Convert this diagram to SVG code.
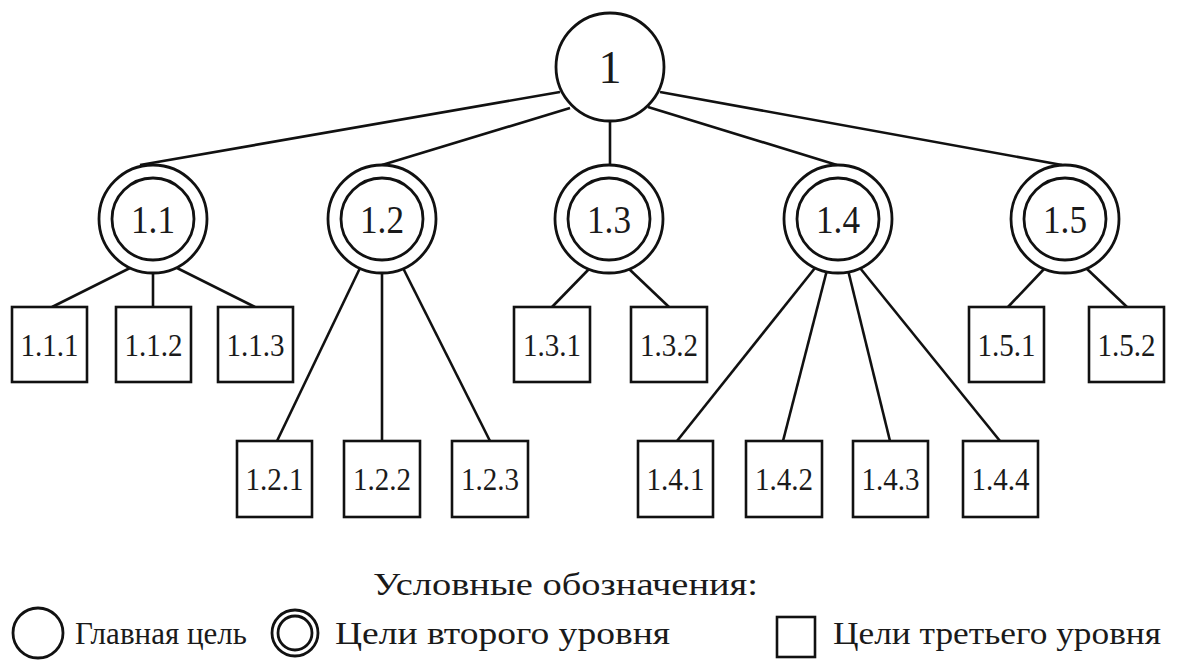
<svg xmlns="http://www.w3.org/2000/svg" width="1183" height="663" viewBox="0 0 1183 663">
<style>
text{font-family:"Liberation Serif","Times New Roman",Times,"DejaVu Serif",serif}
.ln{stroke:#111;stroke-width:2.6;fill:none}
.c{fill:#fff;stroke:#111;stroke-width:2.8}
.b{fill:#fff;stroke:#111;stroke-width:2.6}
.t{fill:#1a1a1a;text-anchor:middle}
.t1{font-size:46px}
.t2{font-size:40px}
.t3{font-size:31px}
.lg{fill:#1a1a1a;font-size:32px}
</style>
<rect width="1183" height="663" fill="#fff"/>
<g id="connectors">
<line class="ln" x1="560" y1="92" x2="140" y2="165"/>
<line class="ln" x1="570" y1="108" x2="382" y2="165"/>
<line class="ln" x1="610" y1="115" x2="610" y2="168"/>
<line class="ln" x1="648" y1="107" x2="837" y2="165"/>
<line class="ln" x1="660" y1="92" x2="1062" y2="165"/>
<line class="ln" x1="130" y1="268" x2="52" y2="307"/>
<line class="ln" x1="153" y1="270" x2="153" y2="307"/>
<line class="ln" x1="177" y1="268" x2="255" y2="307"/>
<line class="ln" x1="360" y1="268" x2="277" y2="441"/>
<line class="ln" x1="382" y1="270" x2="382" y2="441"/>
<line class="ln" x1="403" y1="268" x2="490" y2="441"/>
<line class="ln" x1="590" y1="268" x2="552" y2="307"/>
<line class="ln" x1="628" y1="268" x2="669" y2="307"/>
<line class="ln" x1="815" y1="268" x2="677" y2="441"/>
<line class="ln" x1="827" y1="270" x2="783" y2="441"/>
<line class="ln" x1="848" y1="270" x2="890" y2="441"/>
<line class="ln" x1="860" y1="268" x2="1000" y2="441"/>
<line class="ln" x1="1045" y1="268" x2="1008" y2="307"/>
<line class="ln" x1="1086" y1="268" x2="1127" y2="307"/>
</g>
<g id="n1"><circle class="c" cx="610" cy="67" r="54"/><text class="t t1" x="610" y="83">1</text></g>
<g id="n1_1"><circle class="c" cx="153" cy="219" r="54"/><circle class="c" cx="153" cy="219" r="41"/><text class="t t2" x="153" y="233" textLength="44" lengthAdjust="spacingAndGlyphs">1.1</text></g>
<g id="n1_2"><circle class="c" cx="382" cy="219" r="54"/><circle class="c" cx="382" cy="219" r="41"/><text class="t t2" x="382" y="233" textLength="44" lengthAdjust="spacingAndGlyphs">1.2</text></g>
<g id="n1_3"><circle class="c" cx="609" cy="219" r="54"/><circle class="c" cx="609" cy="219" r="41"/><text class="t t2" x="609" y="233" textLength="44" lengthAdjust="spacingAndGlyphs">1.3</text></g>
<g id="n1_4"><circle class="c" cx="838" cy="219" r="54"/><circle class="c" cx="838" cy="219" r="41"/><text class="t t2" x="838" y="233" textLength="44" lengthAdjust="spacingAndGlyphs">1.4</text></g>
<g id="n1_5"><circle class="c" cx="1065" cy="219" r="54"/><circle class="c" cx="1065" cy="219" r="41"/><text class="t t2" x="1065" y="233" textLength="44" lengthAdjust="spacingAndGlyphs">1.5</text></g>
<g id="n1_1_1"><rect class="b" x="12" y="307" width="75" height="75"/><text class="t t3" x="49.5" y="356" textLength="58" lengthAdjust="spacingAndGlyphs">1.1.1</text></g>
<g id="n1_1_2"><rect class="b" x="116" y="307" width="75" height="75"/><text class="t t3" x="153.5" y="356" textLength="58" lengthAdjust="spacingAndGlyphs">1.1.2</text></g>
<g id="n1_1_3"><rect class="b" x="218" y="307" width="75" height="75"/><text class="t t3" x="255.5" y="356" textLength="58" lengthAdjust="spacingAndGlyphs">1.1.3</text></g>
<g id="n1_3_1"><rect class="b" x="514" y="307" width="76" height="75"/><text class="t t3" x="552" y="356" textLength="58" lengthAdjust="spacingAndGlyphs">1.3.1</text></g>
<g id="n1_3_2"><rect class="b" x="631" y="307" width="76" height="75"/><text class="t t3" x="669" y="356" textLength="58" lengthAdjust="spacingAndGlyphs">1.3.2</text></g>
<g id="n1_5_1"><rect class="b" x="969" y="307" width="75" height="75"/><text class="t t3" x="1006.5" y="356" textLength="58" lengthAdjust="spacingAndGlyphs">1.5.1</text></g>
<g id="n1_5_2"><rect class="b" x="1089" y="307" width="75" height="75"/><text class="t t3" x="1126.5" y="356" textLength="58" lengthAdjust="spacingAndGlyphs">1.5.2</text></g>
<g id="n1_2_1"><rect class="b" x="237" y="441" width="75" height="76"/><text class="t t3" x="274.5" y="490" textLength="58" lengthAdjust="spacingAndGlyphs">1.2.1</text></g>
<g id="n1_2_2"><rect class="b" x="344" y="441" width="76" height="76"/><text class="t t3" x="382" y="490" textLength="58" lengthAdjust="spacingAndGlyphs">1.2.2</text></g>
<g id="n1_2_3"><rect class="b" x="452" y="441" width="76" height="76"/><text class="t t3" x="490" y="490" textLength="58" lengthAdjust="spacingAndGlyphs">1.2.3</text></g>
<g id="n1_4_1"><rect class="b" x="638" y="441" width="75" height="76"/><text class="t t3" x="675.5" y="490" textLength="58" lengthAdjust="spacingAndGlyphs">1.4.1</text></g>
<g id="n1_4_2"><rect class="b" x="746" y="441" width="76" height="76"/><text class="t t3" x="784" y="490" textLength="58" lengthAdjust="spacingAndGlyphs">1.4.2</text></g>
<g id="n1_4_3"><rect class="b" x="853" y="441" width="75" height="76"/><text class="t t3" x="890.5" y="490" textLength="58" lengthAdjust="spacingAndGlyphs">1.4.3</text></g>
<g id="n1_4_4"><rect class="b" x="963" y="441" width="75" height="76"/><text class="t t3" x="1000.5" y="490" textLength="58" lengthAdjust="spacingAndGlyphs">1.4.4</text></g>
<g id="legend">
<text class="lg" x="373" y="595" textLength="385" lengthAdjust="spacingAndGlyphs">Условные обозначения:</text>
<circle class="c" cx="38" cy="633" r="25" stroke-width="2.6"/>
<text class="lg" x="75" y="644" textLength="172" lengthAdjust="spacingAndGlyphs">Главная цель</text>
<circle class="c" cx="295" cy="633" r="23" stroke-width="2.4"/>
<circle class="c" cx="295" cy="633" r="17" stroke-width="2.4"/>
<text class="lg" x="335" y="644" textLength="335" lengthAdjust="spacingAndGlyphs">Цели второго уровня</text>
<rect class="b" x="777" y="617" width="38" height="40"/>
<text class="lg" x="833" y="644" textLength="328" lengthAdjust="spacingAndGlyphs">Цели третьего уровня</text>
</g>
</svg>
